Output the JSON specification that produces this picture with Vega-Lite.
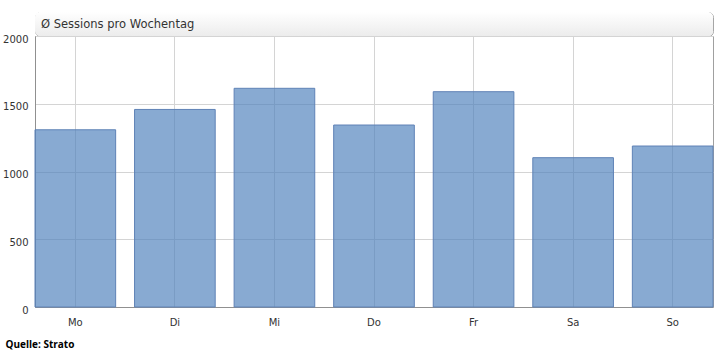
{
  "$schema": "https://vega.github.io/schema/vega-lite/v6.json",
  "autosize": "pad",
  "padding": {"left": 2, "top": 11, "right": 9, "bottom": 5},
  "background": "white",
  "spacing": 0,
  "bounds": "flush",
  "config": {
    "font": "DejaVu Sans",
    "concat": {"spacing": 0}
  },
  "vconcat": [
    {
      "width": 678,
      "height": 24,
      "data": {"values": [{"t": "Ø Sessions pro Wochentag"}]},
      "view": {"stroke": "#a6a6a6", "strokeWidth": 1, "cornerRadius": 5},
      "mark": {
        "type": "rect",
        "cornerRadius": 5,
        "color": {
          "gradient": "linear",
          "x1": 0, "y1": 0, "x2": 0, "y2": 1,
          "stops": [
            {"offset": 0, "color": "#ffffff"},
            {"offset": 1, "color": "#ececec"}
          ]
        }
      },
      "encoding": {},
      "title": {
        "text": "Ø Sessions pro Wochentag",
        "orient": "top",
        "anchor": "start",
        "frame": "group",
        "offset": -18,
        "dx": 6,
        "fontSize": 11.5,
        "fontWeight": "normal",
        "color": "#333333",
        "font": "DejaVu Sans"
      }
    },
    {
      "width": 678,
      "height": 271,
      "data": {
        "values": [
          {"tag": "Mo", "sessions": 1308},
          {"tag": "Di", "sessions": 1458},
          {"tag": "Mi", "sessions": 1614},
          {"tag": "Do", "sessions": 1343},
          {"tag": "Fr", "sessions": 1589},
          {"tag": "Sa", "sessions": 1102},
          {"tag": "So", "sessions": 1188}
        ]
      },
      "view": {"stroke": "#a0a0a0", "strokeWidth": 1},
      "mark": {
        "type": "bar",
        "color": "#4f81bd",
        "fillOpacity": 0.68,
        "stroke": "#5f82b6",
        "strokeWidth": 1
      },
      "encoding": {
        "x": {
          "field": "tag",
          "type": "nominal",
          "sort": null,
          "scale": {"paddingInner": 0.19, "paddingOuter": 0},
          "axis": {
            "title": "Quelle: Strato",
            "titleAnchor": "start",
            "titleAlign": "left",
            "titleX": -30,
            "titleY": 32,
            "titleFontWeight": "bold",
            "titleFontSize": 10,
            "titleFont": "Open Sans",
            "titleColor": "#000000",
            "labelAngle": 0,
            "labelFontSize": 10,
            "labelColor": "#333333",
            "labelPadding": 10,
            "ticks": false,
            "domain": true,
            "domainColor": "#909090",
            "grid": true,
            "gridColor": "#d4d4d4",
            "bandPosition": 0.5
          }
        },
        "y": {
          "field": "sessions",
          "type": "quantitative",
          "scale": {"domain": [0, 2000], "nice": false},
          "axis": {
            "title": null,
            "values": [0, 500, 1000, 1500, 2000],
            "format": "d",
            "labelFontSize": 10,
            "labelColor": "#333333",
            "labelPadding": 7,
            "labelOffset": 3,
            "ticks": false,
            "domain": true,
            "domainColor": "#909090",
            "grid": true,
            "gridColor": "#d4d4d4"
          }
        }
      }
    }
  ]
}
